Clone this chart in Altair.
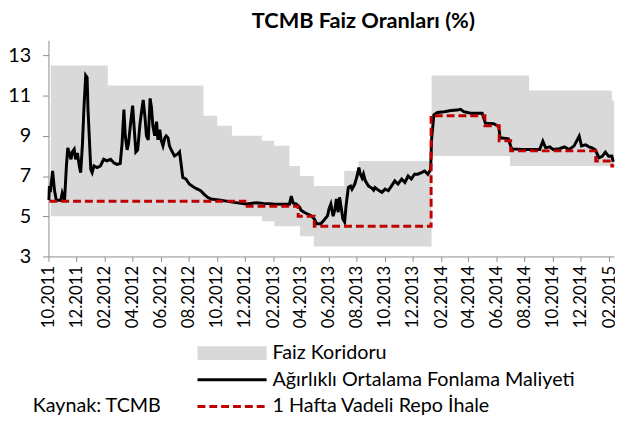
import altair as alt
import pandas as pd

# ---- data (days counted from 2011-10-01) ----
corr_days = [5, 129, 337, 367, 399, 464, 491, 524, 547, 577, 643, 674, 833, 1004, 1045, 1225, 1230]
corr_upper = [12.5, 11.5, 10.0, 9.5, 9.0, 8.75, 8.5, 7.5, 7.0, 6.5, 7.25, 7.75, 12.0, 12.0, 11.25, 10.75, 10.75]
corr_lower = [5.0, 5.0, 5.0, 5.0, 5.0, 4.75, 4.5, 4.5, 4.0, 3.5, 3.5, 3.5, 8.0, 7.5, 7.5, 7.5, 7.5]

repo_days = [2, 427, 543, 578, 832, 949, 980, 1005, 1190, 1225, 1230]
repo_rate = [5.75, 5.5, 5.0, 4.5, 10.0, 9.5, 8.75, 8.25, 7.75, 7.5, 7.5]

aofm_days = [1, 2, 4, 9, 13, 17, 27, 30, 35, 39, 42, 49, 52, 56, 59, 63, 67, 70, 74, 77,
             81, 84, 86, 92, 95, 99, 106, 113, 120, 127, 135, 142, 149, 156, 160, 164, 167, 171, 174, 178,
             183, 187, 190, 194, 199, 203, 206, 210, 213, 217, 221, 224, 227, 231, 235, 238, 242, 245, 249, 253,
             256, 260, 263, 267, 274, 281, 285, 288, 292, 299, 306, 317, 324, 331, 338, 346, 353, 374, 403, 431,
             453, 467, 489, 510, 524, 528, 532, 539, 546, 549, 556, 564, 571, 578, 583, 592, 599, 607, 610, 614,
             619, 623, 626, 630, 633, 637, 640, 644, 647, 652, 657, 660, 666, 671, 675, 678, 682, 685, 689, 696,
             703, 707, 710, 717, 725, 732, 739, 746, 753, 760, 768, 775, 782, 789, 796, 803, 811, 818, 825, 831,
             833, 838, 846, 861, 875, 889, 896, 903, 918, 943, 950, 968, 979, 982, 1000, 1007, 1032, 1068, 1075, 1081,
             1090, 1097, 1111, 1122, 1132, 1143, 1150, 1154, 1159, 1168, 1175, 1182, 1189, 1197, 1204, 1211, 1218, 1225, 1228]
aofm_rate = [5.8, 6.5, 6.2, 7.25, 6.3, 5.8, 5.8, 6.15, 5.8, 7.5, 8.4, 7.83, 8.2, 8.33, 7.83, 8.15, 7.5, 7.17, 8.64, 10.3,
             12.0, 11.9, 10.3, 7.33, 7.17, 7.5, 7.42, 7.5, 7.83, 7.75, 7.83, 7.66, 7.58, 7.62, 8.6, 10.3, 9.0, 8.3, 8.6, 9.5,
             10.5, 9.2, 8.2, 8.3, 9.6, 10.3, 10.78, 9.9, 9.0, 8.8, 10.86, 10.4, 9.5, 9.0, 9.7, 8.8, 9.3, 8.8, 8.5, 8.9,
             9.0, 8.9, 8.5, 8.3, 8.0, 8.1, 8.2, 7.67, 6.93, 6.85, 6.6, 6.43, 6.35, 6.27, 6.1, 5.94, 5.86, 5.8, 5.69, 5.61,
             5.67, 5.64, 5.61, 5.6, 5.6, 6.0, 5.65, 5.6, 5.45, 5.3, 5.2, 5.1, 5.03, 4.87, 4.63, 4.63, 4.8, 5.03, 5.36, 5.61,
             5.0, 5.36, 5.86, 5.2, 5.94, 5.36, 4.87, 4.71, 5.5, 6.43, 6.5, 6.35, 6.6, 7.0, 7.42, 7.1, 6.9, 7.1, 6.76, 6.5,
             6.4, 6.3, 6.43, 6.3, 6.19, 6.35, 6.27, 6.51, 6.76, 6.6, 6.85, 6.68, 7.0, 6.85, 7.09, 7.09, 7.17, 7.25, 7.09, 7.33,
             8.81, 10.04, 10.16, 10.2, 10.26, 10.28, 10.32, 10.2, 10.12, 10.12, 9.63, 9.6, 9.47, 8.9, 8.85, 8.35, 8.32, 8.32, 8.73, 8.4,
             8.45, 8.32, 8.36, 8.45, 8.32, 8.5, 8.81, 8.98, 8.5, 8.55, 8.45, 8.4, 8.3, 7.91, 7.98, 8.19, 7.98, 7.99, 7.7]

tick_months = [(2011, 10), (2011, 12), (2012, 2), (2012, 4), (2012, 6), (2012, 8), (2012, 10), (2012, 12),
               (2013, 2), (2013, 4), (2013, 6), (2013, 8), (2013, 10), (2013, 12), (2014, 2), (2014, 4),
               (2014, 6), (2014, 8), (2014, 10), (2014, 12), (2015, 2)]
y_ticks = [3, 5, 7, 9, 11, 13]

title_text = "TCMB Faiz Oranları (%)"
legend_labels = ["Faiz Koridoru", "Ağırlıklı Ortalama Fonlama Maliyeti", "1 Hafta Vadeli Repo İhale"]
source_text = "Kaynak: TCMB"

base = pd.Timestamp("2011-10-01")
corr_df = pd.DataFrame({"date": base + pd.to_timedelta(corr_days, unit="D"),
                        "upper": corr_upper, "lower": corr_lower})
repo_df = pd.DataFrame({"date": base + pd.to_timedelta(repo_days, unit="D"), "rate": repo_rate})
aofm_df = pd.DataFrame({"date": base + pd.to_timedelta(aofm_days, unit="D"), "rate": aofm_rate})

FONT = "Lato"
AXIS_GRAY = "#8C8C8C"
RED = "#C00000"
GRAY = "#D9D9D9"

x_scale = alt.Scale(domain=[alt.DateTime(year=2011, month=10, date=1),
                            alt.DateTime(year=2015, month=2, date=11, hours=17)])
y_scale = alt.Scale(domain=[3, 13.75], nice=False, zero=False)

x_axis = alt.Axis(values=[alt.DateTime(year=y, month=m, date=1) for y, m in tick_months],
                  format="%m.%Y", labelAngle=270, labelFont=FONT, labelFontSize=17,
                  labelColor="black", domainColor=AXIS_GRAY, tickColor=AXIS_GRAY,
                  tickSize=5, labelPadding=4, grid=False, title=None, labelOverlap=False)
y_axis = alt.Axis(values=y_ticks, labelFont=FONT, labelFontSize=20, labelColor="black",
                  domainColor=AXIS_GRAY, tickColor=AXIS_GRAY, tickSize=6, labelPadding=12,
                  grid=False, title=None)

X = alt.X("date:T", scale=x_scale, axis=x_axis)

corridor = alt.Chart(corr_df).mark_area(interpolate="step-after", color=GRAY).encode(
    x=X,
    y=alt.Y("lower:Q", scale=y_scale, axis=y_axis),
    y2="upper:Q",
)
aofm = alt.Chart(aofm_df).mark_line(color="black", strokeWidth=3).encode(
    x=X, y=alt.Y("rate:Q", scale=y_scale, axis=y_axis))
repo = alt.Chart(repo_df).mark_line(color=RED, strokeWidth=3, strokeDash=[8, 4],
                                    interpolate="step-after").encode(
    x=X, y=alt.Y("rate:Q", scale=y_scale, axis=y_axis))

title = alt.Chart(pd.DataFrame({"t": [title_text]})).mark_text(
    font=FONT, fontWeight="bold", fontSize=22, align="center", baseline="alphabetic", color="black"
).encode(text="t:N", x=alt.value(319), y=alt.value(-12))

leg_rect = alt.Chart(pd.DataFrame({"k": [legend_labels[0]]})).mark_rect(color=GRAY).encode(
    x=alt.value(151), x2=alt.value(221), y=alt.value(310), y2=alt.value(324))
leg_black = alt.Chart(pd.DataFrame({"k": [legend_labels[1]]})).mark_rule(color="black", strokeWidth=3).encode(
    x=alt.value(151), x2=alt.value(221), y=alt.value(344))
leg_red = alt.Chart(pd.DataFrame({"k": [legend_labels[2]]})).mark_rule(color=RED, strokeWidth=3, strokeDash=[8, 4]).encode(
    x=alt.value(151), x2=alt.value(221), y=alt.value(371))

def label(txt, x, y):
    return alt.Chart(pd.DataFrame({"t": [txt]})).mark_text(
        font=FONT, fontSize=20, align="left", baseline="middle", color="black"
    ).encode(text="t:N", x=alt.value(x), y=alt.value(y))

texts = [label(legend_labels[0], 227, 317), label(legend_labels[1], 227, 344),
         label(legend_labels[2], 227, 371), label(source_text, -16, 371)]

chart = alt.layer(corridor, aofm, repo, title, leg_rect, leg_black, leg_red, *texts).properties(
    width=573, height=219,
    autosize=alt.AutoSizeParams(type="none"),
    padding={"left": 41, "top": 30, "right": 1, "bottom": 165},
    background="white",
).configure_view(stroke=None).configure_axisX(labelOverlap=False)

chart.save("out.html", embed_options={"renderer": "svg", "actions": False})
